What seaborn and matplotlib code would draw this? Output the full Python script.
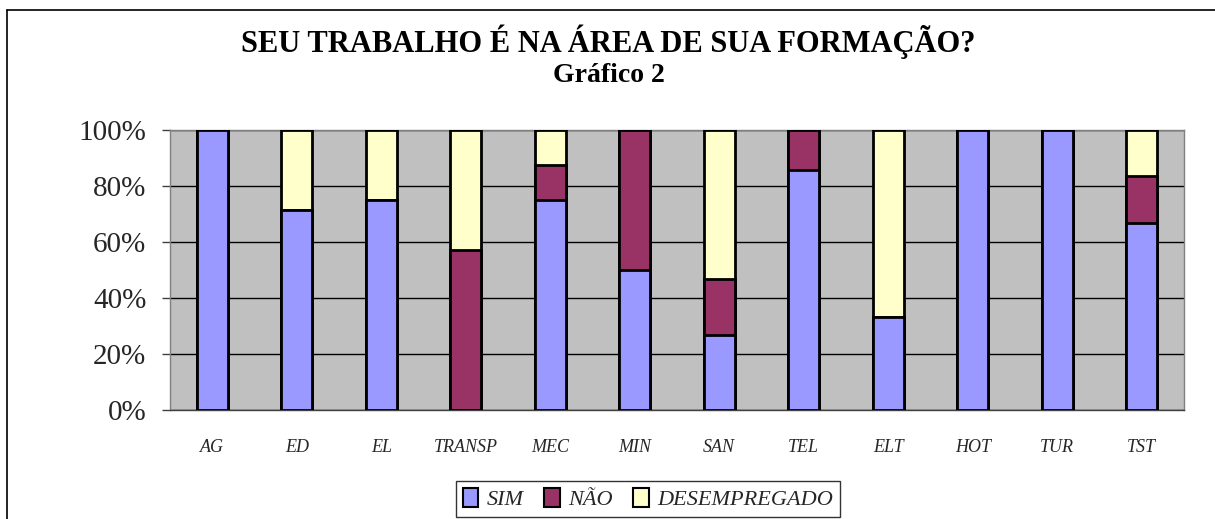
import pandas as pd
import matplotlib
matplotlib.use("Agg")
import matplotlib.pyplot as plt
import seaborn as sns
from matplotlib.patches import Patch
from matplotlib.lines import Line2D

# данные (проценты)
cursos = ['AG', 'ED', 'EL', 'TRANSP', 'MEC', 'MIN', 'SAN', 'TEL', 'ELT', 'HOT', 'TUR', 'TST']
sim = [100, 71.4, 75, 0, 75, 50, 26.7, 85.7, 33.3, 100, 100, 66.7]
nao = [0, 0, 0, 57.1, 12.5, 50, 20, 14.3, 0, 0, 0, 16.7]
desempregado = [0, 28.6, 25, 42.9, 12.5, 0, 53.3, 0, 66.7, 0, 0, 16.6]
legenda = ['SIM', 'NÃO', 'DESEMPREGADO']
cores = ['#9999FF', '#993366', '#FFFFCC']

sns.set_style("white")
plt.rcParams['font.family'] = ['Liberation Serif', 'DejaVu Serif']

df = pd.DataFrame({'curso': cursos, 'SIM': sim, 'NAO': nao, 'DES': desempregado})
# накопленные суммы для стопки
df['c_sim'] = df['SIM']
df['c_nao'] = df['SIM'] + df['NAO']
df['c_des'] = df['c_nao'] + df['DES']

fig = plt.figure(figsize=(12.15, 5.19), dpi=100)
ax = fig.add_axes([170 / 1215, 1 - 410 / 519, 1014 / 1215, 280 / 519])
ax.set_facecolor('#C0C0C0')

for col, cor in [('c_des', cores[2]), ('c_nao', cores[1]), ('c_sim', cores[0])]:
    sns.barplot(data=df, x='curso', y=col, color=cor, saturation=1, width=0.37,
                edgecolor='black', linewidth=2, ax=ax, zorder=3)

ax.set_xlim(-0.5, len(cursos) - 0.5)
ax.set_ylim(0, 100)
ax.set_yticks(range(0, 101, 20))
ax.set_yticklabels([f"{v}%" for v in range(0, 101, 20)], fontsize=21)
ax.yaxis.grid(True, color='black', lw=1, zorder=1)
ax.set_axisbelow(True)
ax.set_xlabel('')
ax.set_ylabel('')

ax.set_xticks(range(len(cursos)))
ax.set_xticklabels(cursos, fontsize=13, style='italic')
ax.set_xticks([i - 0.5 for i in range(len(cursos) + 1)], minor=True)
ax.tick_params(axis='x', which='major', length=0, pad=21)
ax.tick_params(axis='x', which='minor', length=6, width=1, color='#404040')
ax.tick_params(axis='y', length=6, width=1, color='#404040', pad=11, left=True)

for s in ['left', 'right', 'top']:
    ax.spines[s].set_color('#808080')
ax.spines['bottom'].set_color('#404040')
for s in ax.spines.values():
    s.set_linewidth(1)

fig.text(0.501, 1 - 42 / 519, 'SEU TRABALHO É NA ÁREA DE SUA FORMAÇÃO?',
         ha='center', va='center', fontsize=22, fontweight='bold', color='black')
fig.text(0.501, 1 - 75 / 519, 'Gráfico 2', ha='center', va='center',
         fontsize=20, fontweight='bold', color='black')

handles = [Patch(facecolor=c, edgecolor='black', linewidth=1.5) for c in cores]
leg = fig.legend(handles, legenda, loc='center', bbox_to_anchor=(648 / 1215, 1 - 499 / 519),
                 ncol=3, frameon=True, fancybox=False, edgecolor='black',
                 prop={'size': 16, 'style': 'italic'}, handlelength=0.7, handleheight=0.9,
                 handletextpad=0.4, columnspacing=0.9, borderpad=0.3)
leg.get_frame().set_linewidth(1)

# рамка вокруг графика
fig.add_artist(Line2D([7 / 1215, 7 / 1215], [0, 1 - 10 / 519], color='black', lw=1.2,
                      transform=fig.transFigure))
fig.add_artist(Line2D([7 / 1215, 1], [1 - 10 / 519, 1 - 10 / 519], color='black', lw=1.2,
                      transform=fig.transFigure))

fig.savefig('out.png', dpi=100)
